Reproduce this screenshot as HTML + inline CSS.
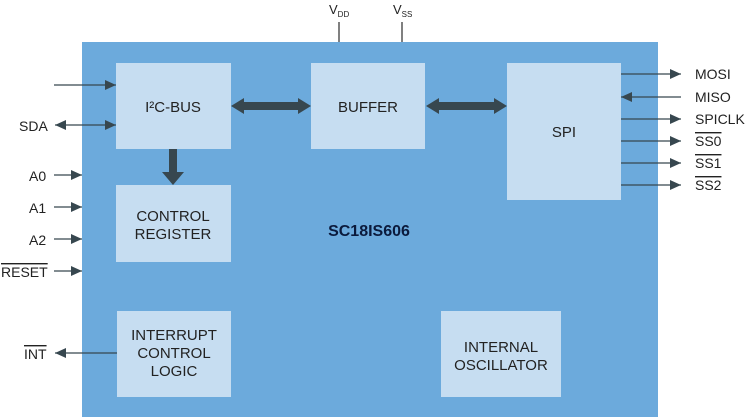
<!DOCTYPE html>
<html><head><style>
body{margin:0;background:#fff;}
svg{display:block;font-family:"Liberation Sans",Arial,sans-serif;}
</style></head><body>
<svg width="753" height="417" viewBox="0 0 753 417" xmlns="http://www.w3.org/2000/svg">
<defs>
<marker id="ah" markerWidth="12" markerHeight="12" refX="11" refY="6" orient="auto" markerUnits="userSpaceOnUse">
<path d="M0,1 L11,6 L0,11 Z" fill="#37474f"/>
</marker>
<marker id="ahs" markerWidth="12" markerHeight="12" refX="1" refY="6" orient="auto" markerUnits="userSpaceOnUse">
<path d="M12,1 L1,6 L12,11 Z" fill="#37474f"/>
</marker>
</defs>
<line x1="339" y1="22" x2="339" y2="42" stroke="#555" stroke-width="1.5"/>
<line x1="402" y1="22" x2="402" y2="42" stroke="#555" stroke-width="1.5"/>
<text x="329" y="14" font-size="13" fill="#222">V<tspan font-size="8" dy="3">DD</tspan></text>
<text x="393" y="14" font-size="13" fill="#222">V<tspan font-size="8" dy="3">SS</tspan></text>
<rect x="82" y="42" width="576" height="375" fill="#6caadc"/>
<g fill="#c6ddf1">
<rect x="116" y="63" width="115" height="86"/>
<rect x="311" y="63" width="114" height="86"/>
<rect x="507" y="63" width="114" height="137"/>
<rect x="116" y="185" width="115" height="77"/>
<rect x="117" y="311" width="114" height="86"/>
<rect x="441" y="311" width="120" height="86"/>
</g>
<g font-size="15" fill="#222" text-anchor="middle">
<text x="173" y="112">I²C-BUS</text>
<text x="368" y="112">BUFFER</text>
<text x="564" y="137">SPI</text>
<text x="173" y="221">CONTROL</text>
<text x="173" y="239">REGISTER</text>
<text x="174" y="340">INTERRUPT</text>
<text x="174" y="358">CONTROL</text>
<text x="174" y="376">LOGIC</text>
<text x="501" y="352">INTERNAL</text>
<text x="501" y="370">OSCILLATOR</text>
</g>
<text x="369" y="236" font-size="16" font-weight="bold" fill="#0b1a3c" text-anchor="middle">SC18IS606</text>
<g fill="#37474f">
<path d="M231,106 L244,98 L244,102 L298,102 L298,98 L311,106 L298,114 L298,110 L244,110 L244,114 Z"/>
<path d="M426,106 L439,98 L439,102 L494,102 L494,98 L507,106 L494,114 L494,110 L439,110 L439,114 Z"/>
<path d="M169,149 L177,149 L177,172 L184,172 L173,185 L162,172 L169,172 Z"/>
</g>
<g stroke="#37474f" stroke-width="1.3" fill="none">
<line x1="54" y1="85" x2="116" y2="85" marker-end="url(#ah)"/>
<line x1="55" y1="125" x2="116" y2="125" marker-end="url(#ah)" marker-start="url(#ahs)"/>
<line x1="54" y1="175" x2="82" y2="175" marker-end="url(#ah)"/>
<line x1="54" y1="207" x2="82" y2="207" marker-end="url(#ah)"/>
<line x1="54" y1="239" x2="82" y2="239" marker-end="url(#ah)"/>
<line x1="54" y1="271" x2="82" y2="271" marker-end="url(#ah)"/>
<line x1="117" y1="353" x2="55" y2="353" marker-end="url(#ah)"/>
<line x1="621" y1="74" x2="681" y2="74" marker-end="url(#ah)"/>
<line x1="681" y1="97" x2="621" y2="97" marker-end="url(#ah)"/>
<line x1="621" y1="119" x2="681" y2="119" marker-end="url(#ah)"/>
<line x1="621" y1="141" x2="681" y2="141" marker-end="url(#ah)"/>
<line x1="621" y1="163" x2="681" y2="163" marker-end="url(#ah)"/>
<line x1="621" y1="185" x2="681" y2="185" marker-end="url(#ah)"/>
</g>
<g font-size="14" fill="#222">
<text x="19" y="131">SDA</text>
<text x="29" y="181">A0</text>
<text x="29" y="213">A1</text>
<text x="29" y="245">A2</text>
<text x="1" y="277" text-decoration="overline">RESET</text>
<text x="24" y="359" text-decoration="overline">INT</text>
<text x="695" y="79">MOSI</text>
<text x="695" y="102">MISO</text>
<text x="695" y="124">SPICLK</text>
<text x="695" y="146" text-decoration="overline">SS0</text>
<text x="695" y="168" text-decoration="overline">SS1</text>
<text x="695" y="190" text-decoration="overline">SS2</text>
</g>
</svg>
</body></html>
